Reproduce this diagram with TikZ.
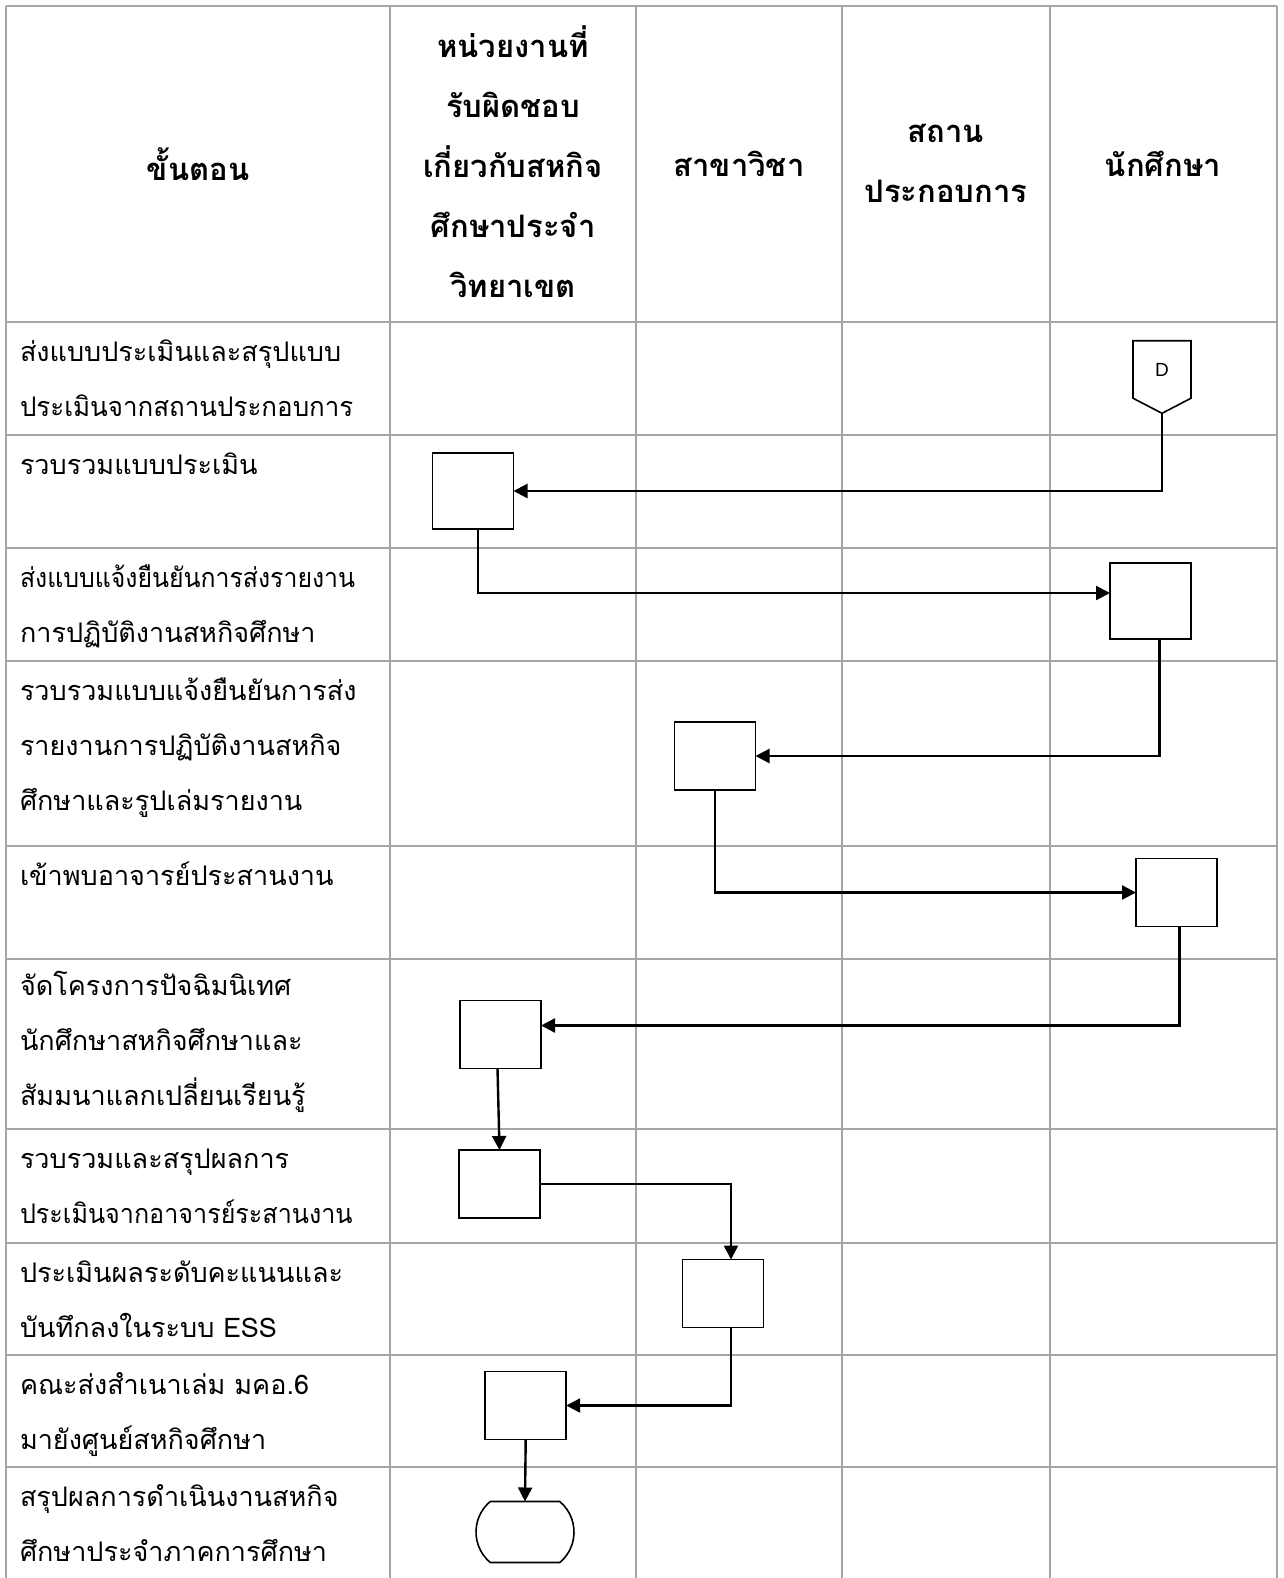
\documentclass[tikz,border=0pt]{standalone}
\usepackage{fontspec}
\setmainfont{Loma}[Script=Thai]
\newfontfamily\latinsans{Liberation Sans}
\usetikzlibrary{arrows.meta,shapes.misc,shapes.symbols}
\definecolor{FlowGrid}{gray}{0.65}
\definecolor{FlowInk}{gray}{0.0}
\tikzset{
    flow/diagram/.style={
        x=1pt, y=-1pt,
        line join=miter,
        every node/.style={inner sep=0pt, outer sep=0pt}
    },
    flow/grid/.style={draw=FlowGrid, line width=2pt},
    flow/head/.style={
        font=\bfseries\fontsize{31}{60}\selectfont, align=center
    },
    flow/steptext/.style={
        font=\fontsize{27}{55}\selectfont, align=left, anchor=north west
    },
    flow/box/.style={
        draw=FlowInk, line width=1.6pt, fill=white,
        minimum width=81pt, minimum height=68pt
    },
    flow/offpage/.style={
        draw=FlowInk, line width=1.6pt, fill=white,
        signal, signal to=south, signal from=nowhere,
        signal pointer angle=125,
        minimum width=58pt, minimum height=61pt,
        font=\latinsans\fontsize{19}{21}\selectfont
    },
    flow/terminal/.style={
        draw=FlowInk, line width=1.6pt, fill=white,
        rounded rectangle, rounded rectangle arc length=100,
        minimum width=98pt, minimum height=61pt
    },
    flow/link/.style={
        draw=FlowInk, line width=2.4pt,
        -{Triangle[length=14pt, width=14pt]}
    }
}

\begin{document}
\begin{tikzpicture}[flow/diagram]
    \useasboundingbox (0,0) rectangle (1283,1578);

    % table
    \foreach \x in {6,390,636,842,1050,1276.5}
        \draw[flow/grid] (\x,6) -- (\x,1578);
    \foreach \y in {6,322,435,548,661,846,959,1129,1243,1355,1467}
        \draw[flow/grid] (6,\y) -- (1276.5,\y);

    % header
    \node[flow/head] (hstep) at (198,164) {ขั้นตอน};
    \node[flow/head] (hunit) at (513,162)
        {หน่วยงานที่\\รับผิดชอบ\\เกี่ยวกับสหกิจ\\ศึกษาประจำ\\วิทยาเขต};
    \node[flow/head] (hdept) at (739,164) {สาขาวิชา};
    \node[flow/head] (hfirm) at (946,163) {สถาน\\ประกอบการ};
    \node[flow/head] (hstud) at (1163,164) {นักศึกษา};

    % steps
    \node[flow/steptext] (s1) at (20,323)
        {\strut ส่งแบบประเมินและสรุปแบบ\\\scalebox{0.96}[1]{ประเมินจากสถานประกอบการ}};
    \node[flow/steptext] (s2) at (20,436) {\strut รวบรวมแบบประเมิน};
    \node[flow/steptext] (s3) at (20,549)
        {\strut\scalebox{0.92}[1]{ส่งแบบแจ้งยืนยันการส่งรายงาน}\\การปฏิบัติงานสหกิจศึกษา};
    \node[flow/steptext] (s4) at (20,662)
        {\strut รวบรวมแบบแจ้งยืนยันการส่ง\\รายงานการปฏิบัติงานสหกิจ\\ศึกษาและรูปเล่มรายงาน};
    \node[flow/steptext] (s5) at (20,847) {\strut เข้าพบอาจารย์ประสานงาน};
    \node[flow/steptext] (s6) at (20,957)
        {\strut จัดโครงการปัจฉิมนิเทศ\\นักศึกษาสหกิจศึกษาและ\\สัมมนาแลกเปลี่ยนเรียนรู้};
    \node[flow/steptext] (s7) at (20,1130)
        {\strut รวบรวมและสรุปผลการ\\\scalebox{0.93}[1]{ประเมินจากอาจารย์ระสานงาน}};
    \node[flow/steptext] (s8) at (20,1244)
        {\strut ประเมินผลระดับคะแนนและ\\บันทึกลงในระบบ ESS};
    \node[flow/steptext] (s9) at (20,1356)
        {\strut คณะส่งสำเนาเล่ม มคอ.6\\มายังศูนย์สหกิจศึกษา};
    \node[flow/steptext] (s10) at (20,1468)
        {\strut สรุปผลการดำเนินงานสหกิจ\\ศึกษาประจำภาคการศึกษา};

    % flow
    \node[flow/offpage] (dconn) at (1162,369.5) {D};
    \node[flow/box, minimum height=76pt] (b1) at (473,491) {};
    \node[flow/box, minimum height=76pt] (b2) at (1150.5,601) {};
    \node[flow/box] (b3) at (715,756) {};
    \node[flow/box] (b4) at (1176.5,892.5) {};
    \node[flow/box] (b5) at (500.5,1034.5) {};
    \node[flow/box] (b6) at (499.5,1184) {};
    \node[flow/box] (b7) at (723,1293.5) {};
    \node[flow/box] (b8) at (525.7,1405.5) {};
    \node[flow/terminal] (term) at (525,1532) {};

    \draw[flow/link] (dconn.south) |- (b1.east);
    \draw[flow/link] ([xshift=5pt]b1.south) |- ([yshift=8pt]b2.west);
    \draw[flow/link] ([xshift=9pt]b2.south) |- (b3.east);
    \draw[flow/link] (b3.south) |- (b4.west);
    \draw[flow/link] ([xshift=3pt]b4.south) |- ([yshift=9pt]b5.east);
    \draw[flow/link] ([xshift=-3pt]b5.south) -- (b6.north);
    \draw[flow/link] (b6.east) -| ([xshift=8pt]b7.north);
    \draw[flow/link] ([xshift=8pt]b7.south) |- (b8.east);
    \draw[flow/link] (b8.south) -- (term.north);
\end{tikzpicture}
\end{document}
